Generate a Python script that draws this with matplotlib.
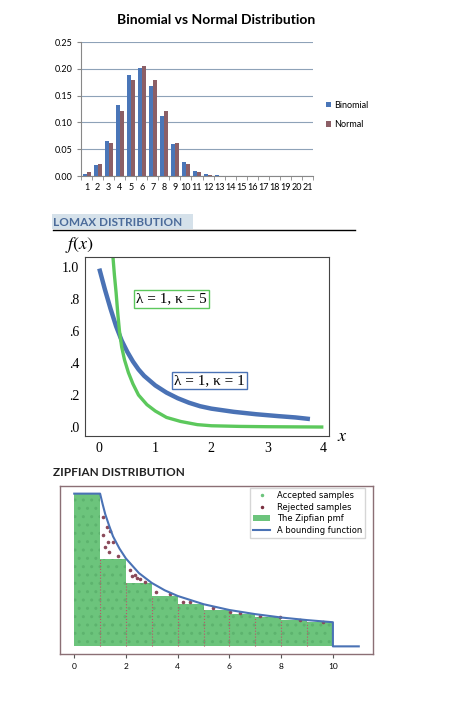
import numpy as np
import matplotlib.pyplot as plt
from matplotlib.patches import Rectangle, Patch
from matplotlib.lines import Line2D

plt.rcParams.update({
    "font.family": ["Lato", "DejaVu Sans"],
    "mathtext.fontset": "stix",
    "hatch.linewidth": 1.0,
})

W, H = 460, 705


def rect(left, top, right, bottom):
    # pixel box -> figure fraction
    return [left / W, 1 - bottom / H, (right - left) / W, (bottom - top) / H]


def fx(px):
    return px / W


def fy(py):
    return 1 - py / H


# binomial vs normal
categories = np.arange(1, 22)
binomial = [0.003, 0.021, 0.066, 0.133, 0.189, 0.201, 0.168, 0.112, 0.060, 0.027,
            0.010, 0.003, 0.001, 0, 0, 0, 0, 0, 0, 0, 0]
normal = [0.007, 0.023, 0.061, 0.121, 0.180, 0.206, 0.180, 0.121, 0.061, 0.023,
          0.007, 0.002, 0.0005, 0, 0, 0, 0, 0, 0, 0, 0]

# lomax curves, points
k1_x = [0.0, 0.1, 0.2, 0.3, 0.4, 0.5, 0.6, 0.7, 0.8, 1.0, 1.2, 1.4, 1.6, 1.8,
        2.0, 2.4, 2.8, 3.2, 3.5, 3.76]
k1_y = [0.99, 0.86, 0.74, 0.63, 0.54, 0.47, 0.41, 0.36, 0.32, 0.26, 0.215, 0.18,
        0.152, 0.13, 0.115, 0.095, 0.08, 0.068, 0.06, 0.05]
k5_x = [0.24, 0.27, 0.30, 0.33, 0.36, 0.40, 0.45, 0.52, 0.60, 0.70, 0.85, 1.0,
        1.2, 1.45, 1.75, 2.0, 2.5, 3.0, 3.5, 4.0]
k5_y = [1.08, 0.95, 0.84, 0.71, 0.60, 0.50, 0.42, 0.34, 0.27, 0.20, 0.14, 0.10,
        0.06, 0.035, 0.015, 0.008, 0.004, 0.002, 0.001, 0.0]

# zipf pmf and bounding function
zipf_k = np.arange(1, 11)
zipf_pmf = [1.0, 0.574, 0.415, 0.330, 0.276, 0.238, 0.211, 0.189, 0.172, 0.158]
bound_x = [0, 1, 1.1, 1.2, 1.35, 1.5, 1.75, 2, 2.5, 3, 3.5, 4, 5, 6, 7, 8, 9, 10, 10, 11]
bound_y = [1, 1, 0.93, 0.865, 0.79, 0.72, 0.64, 0.575, 0.48, 0.415, 0.367, 0.33,
           0.276, 0.238, 0.211, 0.189, 0.172, 0.158, 0, 0]
rej_x = [1.12, 1.25, 1.12, 1.31, 1.19, 1.38, 1.51, 1.35, 1.70, 2.15, 2.22, 2.34,
         2.41, 2.54, 2.73, 3.18, 3.70, 4.21, 4.47, 5.37, 6.01, 6.40, 7.17, 7.94,
         8.71, 9.60]
rej_y = [0.847, 0.78, 0.728, 0.685, 0.652, 0.756, 0.685, 0.62, 0.59, 0.50, 0.46,
         0.47, 0.446, 0.44, 0.42, 0.358, 0.345, 0.293, 0.293, 0.25, 0.228, 0.218,
         0.196, 0.195, 0.175, 0.161]

fig = plt.figure(figsize=(4.6, 7.05), dpi=100)

# ---------------- binomial vs normal
ax1 = fig.add_axes(rect(81, 42, 313, 176))
ax1.bar(categories - 0.18, binomial, width=0.36, color="#4a76b8", label="Binomial", zorder=3)
ax1.bar(categories + 0.18, normal, width=0.36, color="#8c5f66", label="Normal", zorder=3)
ax1.set_xlim(0.5, 21.5)
ax1.set_ylim(0, 0.25)
ax1.set_yticks(np.arange(0, 0.26, 0.05))
ax1.set_yticklabels([f"{v:.2f}" for v in np.arange(0, 0.26, 0.05)])
ax1.set_xticks(categories)
ax1.set_xticklabels([str(c) for c in categories])
ax1.set_xticks(np.arange(0.5, 22, 1), minor=True)
ax1.tick_params(axis="x", which="major", length=0, labelsize=6.5, pad=5)
ax1.tick_params(axis="x", which="minor", length=3, color="#888888")
ax1.tick_params(axis="y", length=3, color="#888888", labelsize=6.5, pad=3)
ax1.grid(axis="y", color="#8ea2b8", lw=0.8, zorder=0)
for s in ["top", "right"]:
    ax1.spines[s].set_visible(False)
for s in ["left", "bottom"]:
    ax1.spines[s].set_color("#888888")
ax1.legend(loc="center left", bbox_to_anchor=(1.02, 0.455), frameon=False,
           fontsize=6.5, handlelength=0.6, handleheight=0.6, handletextpad=0.3,
           labelspacing=1.2)
fig.text(fx(216), fy(20), "Binomial vs Normal Distribution", ha="center", va="center",
         fontsize=10, fontweight="bold")

# ---------------- lomax
fig.patches.append(Rectangle((fx(52), fy(229)), fx(193) - fx(52), fy(214) - fy(229),
                             transform=fig.transFigure, facecolor="#d5e1ea",
                             edgecolor="none"))
fig.text(fx(53), fy(222), "LOMAX DISTRIBUTION", ha="left", va="center",
         fontsize=8.5, fontweight="bold", color="#4b6b9a")
fig.add_artist(Line2D([fx(53), fx(355)], [fy(230), fy(230)], color="black", lw=1))

ax2 = fig.add_axes(rect(85, 257, 329, 436))
ax2.plot(k1_x, k1_y, color="#4a72b5", lw=3.2, solid_capstyle="butt")
ax2.plot(k5_x, k5_y, color="#5cc85c", lw=2.4, solid_capstyle="butt")
ax2.set_xlim(-0.255, 4.1)
ax2.set_ylim(-0.056, 1.0625)
ax2.set_xticks([0, 1, 2, 3, 4])
ax2.set_yticks([0, 0.2, 0.4, 0.6, 0.8, 1.0])
ax2.set_yticklabels([".0", ".2", ".4", ".6", ".8", "1.0"])
ax2.tick_params(length=0, labelsize=10, pad=4)
for lab in ax2.get_xticklabels() + ax2.get_yticklabels():
    lab.set_family("Liberation Serif")
for s in ax2.spines.values():
    s.set_color("#444444")
    s.set_linewidth(0.8)
ax2.text(1.29, 0.80, "λ = 1, κ = 5", ha="center", va="center", fontsize=11,
         family="Liberation Serif",
         bbox=dict(boxstyle="square,pad=0.15", fc="white", ec="#5cc85c", lw=1))
ax2.text(1.97, 0.29, "λ = 1, κ = 1", ha="center", va="center", fontsize=11,
         family="Liberation Serif",
         bbox=dict(boxstyle="square,pad=0.15", fc="white", ec="#4a72b5", lw=1))
fig.text(fx(79), fy(245), "$f(x)$", ha="center", va="center", fontsize=13)
fig.text(fx(342), fy(436), "$x$", ha="center", va="center", fontsize=13)

# ---------------- zipf
fig.text(fx(53), fy(472), "ZIPFIAN DISTRIBUTION", ha="left", va="center",
         fontsize=8.5, fontweight="bold", color="#222222")

ax3 = fig.add_axes(rect(60, 486, 373, 654))
ax3.bar(zipf_k - 0.5, zipf_pmf, width=1.0, color="#6cc47c", edgecolor="#5db36e",
        linewidth=0, hatch="..", zorder=1)
ax3.vlines(zipf_k[:-1], 0, zipf_pmf[1:], colors="#c0506a", linestyles=":", lw=0.8, zorder=2)
ax3.scatter(rej_x, rej_y, s=2.5, color="#8b4a5a", zorder=3)
ax3.plot(bound_x, bound_y, color="#4a72b5", lw=1.5, zorder=4)
ax3.set_xlim(-0.55, 11.55)
ax3.set_ylim(-0.05, 1.05)
ax3.set_xticks([0, 2, 4, 6, 8, 10])
ax3.set_yticks([])
ax3.tick_params(axis="x", labelsize=6, length=3, color="#555555")
for s in ax3.spines.values():
    s.set_color("#8b6f75")
    s.set_linewidth(1)
handles = [
    Line2D([], [], marker=".", ls="none", color="#6cc47c", markersize=3),
    Line2D([], [], marker=".", ls="none", color="#7a3040", markersize=3),
    Patch(facecolor="#6cc47c"),
    Line2D([], [], color="#4a72b5", lw=1.5),
]
ax3.legend(handles, ["Accepted samples", "Rejected samples", "The Zipfian pmf",
                     "A bounding function"],
           loc="upper right", bbox_to_anchor=(0.975, 0.99), fontsize=6,
           fancybox=False, edgecolor="#cccccc", borderaxespad=0, labelspacing=0.3,
           prop={"family": "DejaVu Sans", "size": 6})

fig.savefig("out.png", dpi=100)
